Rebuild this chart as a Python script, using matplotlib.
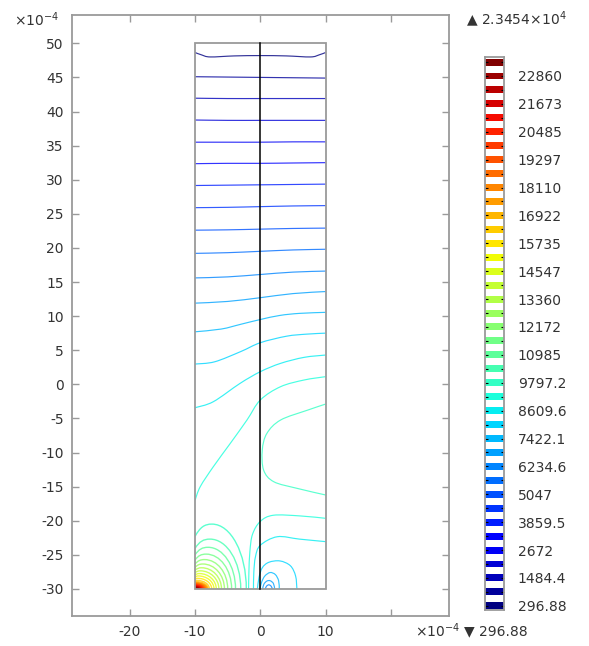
import numpy as np
import matplotlib
matplotlib.use("Agg")
import matplotlib.pyplot as plt
from matplotlib.path import Path
from matplotlib.patches import PathPatch, Rectangle

# ====== data (lengths in units of 1e-4) ======
levels = [296.88, 890.65, 1484.4, 2078.2, 2672.0, 3265.7, 3859.5, 4453.3, 5047.0, 5640.8,
          6234.6, 6828.4, 7422.1, 8015.9, 8609.6, 9203.4, 9797.2, 10391, 10985, 11579,
          12172, 12766, 13360, 13954, 14547, 15141, 15735, 16329, 16922, 17516,
          18110, 18704, 19297, 19891, 20485, 21079, 21673, 22266, 22860, 23454]
cbar_labels = ["296.88", "1484.4", "2672", "3859.5", "5047", "6234.6", "7422.1", "8609.6",
               "9797.2", "10985", "12172", "13360", "14547", "15735", "16922", "18110",
               "19297", "20485", "21673", "22860"]
max_label = "2.3454×10$^{4}$"
min_label = "296.88"

x_ticks = [-20, -10, 0, 10, 20]
x_ticklabels = ["-20", "-10", "0", "10", ""]
y_ticks = list(range(-30, 51, 5))
y_ticklabels = [str(v) for v in y_ticks]

domain_x = [-10, 10]
domain_y = [-30, 50]
interface_x = 0

# top line (wavy)
top_x = [-10, -9, -7.7, -4, 0, 4, 7.7, 9, 10]
top_y = [48.65, 48.3, 48.0, 48.15, 48.2, 48.15, 48.0, 48.3, 48.65]
top_level = 0

# near-horizontal lines, y read at x = -10, -5, 0, 5, 10
flat_x = [-10, -5, 0, 5, 10]
flat_levels = [1, 2, 3, 4, 5, 6, 7, 8, 9, 10, 11]
flat_y = [
    [45.1, 45.05, 45.0, 44.95, 44.9],
    [41.95, 41.9, 41.9, 41.9, 41.9],
    [38.75, 38.7, 38.7, 38.7, 38.7],
    [35.5, 35.5, 35.5, 35.55, 35.55],
    [32.35, 32.4, 32.4, 32.45, 32.5],
    [29.15, 29.2, 29.25, 29.3, 29.35],
    [25.9, 25.95, 26.05, 26.15, 26.2],
    [22.6, 22.65, 22.75, 22.85, 22.9],
    [19.2, 19.3, 19.5, 19.7, 19.8],
    [15.6, 15.75, 16.1, 16.45, 16.6],
    [11.9, 12.15, 12.7, 13.3, 13.6],
]

# curved lines (level index, x points, y points)
curve_levels = [12, 13, 14, 15, 16, 15, 14, 13, 12, 11, 10]
curve_x = [
    [-10, -6, -3, 0, 3, 6, 10],
    [-10, -7, -3, 0, 4, 7, 10],
    [-10, -7.2, -3.1, 0, 3.1, 6.7, 10],
    [10, 6.7, 3.1, 0, -2.05, -4.6, -7.2, -9.2, -10],
    [10, 7.2, 3.1, 1.0, 0.3, 0.5, 2.05, 5.6, 10],
    [10, 6.1, 2.0, 0, -1.2, -1.6, -1.75, -1.8],
    [10, 6, 2.6, 0, -0.75, -1.0, -1.05],
    [-0.45, -0.2, 0.3, 1.3, 3.0, 4.6, 5.4, 5.6],
    [-0.05, 0.2, 0.7, 1.5, 2.3, 2.8, 2.9],
    [0.35, 0.55, 1.0, 1.5, 2.0, 2.2],
    [0.75, 0.95, 1.3, 1.65, 1.85],
]
curve_y = [
    [7.7, 8.1, 8.8, 9.5, 10.1, 10.4, 10.55],
    [2.97, 3.3, 4.8, 6.1, 7.05, 7.35, 7.5],
    [-3.43, -2.55, 0.14, 1.85, 3.07, 3.95, 4.29],
    [1.12, 0.63, -0.35, -2.3, -5.24, -8.66, -12.08, -15.0, -17.0],
    [-2.9, -3.8, -5.24, -7.2, -9.64, -12.57, -14.28, -15.25, -16.23],
    [-19.65, -19.3, -19.2, -20.1, -22.0, -24.5, -27.5, -30],
    [-23.07, -22.7, -22.35, -23.6, -25.3, -27.6, -30],
    [-30, -28.3, -26.9, -26.1, -25.9, -26.6, -28.1, -30],
    [-30, -29.0, -28.1, -27.6, -27.9, -28.8, -30],
    [-30, -29.3, -28.85, -28.8, -29.2, -30],
    [-30, -29.6, -29.4, -29.6, -30],
]

# arcs round the hot corner (-10, -30), levels 16..38
arc_first_level = 16
arc_dy_left = [7.7, 5.95, 5.0, 4.25, 3.65, 3.15, 2.72, 2.35, 2.0, 1.7, 1.4, 1.15,
               0.95, 0.87, 0.79, 0.71, 0.63, 0.55, 0.47, 0.39, 0.31, 0.23, 0.15]
arc_width = [7.85, 7.0, 6.2, 5.6, 5.0, 4.5, 4.05, 3.65, 3.25, 2.9, 2.55, 2.2,
             1.95, 1.8, 1.65, 1.5, 1.35, 1.2, 1.05, 0.9, 0.75, 0.6, 0.45]
arc_dx_peak = [2.6, 2.3, 2.0, 1.7, 1.45, 1.2, 1.0, 0.8, 0.65, 0.5, 0.4, 0.3,
               0.2, 0, 0, 0, 0, 0, 0, 0, 0, 0, 0]
arc_dy_peak = [9.5, 7.3, 6.1, 5.1, 4.3, 3.65, 3.1, 2.65, 2.25, 1.9, 1.55, 1.25,
               1.0, 0.87, 0.79, 0.71, 0.63, 0.55, 0.47, 0.39, 0.31, 0.23, 0.15]

FRAME = "#9a9a9a"
TEXT = "#333333"
LW = 0.85


def smooth_path(xs, ys):
    """Catmull-Rom style curve through the read points."""
    pts = np.column_stack([xs, ys]).astype(float)
    verts = [pts[0]]
    codes = [Path.MOVETO]
    n = len(pts)
    for i in range(n - 1):
        p0 = pts[i - 1] if i > 0 else pts[i]
        p1, p2 = pts[i], pts[i + 1]
        p3 = pts[i + 2] if i + 2 < n else pts[i + 1]
        verts += [p1 + (p2 - p0) / 6, p2 - (p3 - p1) / 6, p2]
        codes += [Path.CURVE4] * 3
    return Path(verts, codes)


def arc_path(x0, y0, dy_left, dx_peak, dy_peak, width):
    start = (x0, y0 + dy_left)
    end = (x0 + width, y0)
    if dx_peak > 0:
        px, py = x0 + dx_peak, y0 + dy_peak
        verts = [start,
                 (x0 + 0.3 * dx_peak, start[1] + 0.75 * (dy_peak - dy_left)),
                 (px - 0.45 * dx_peak, py), (px, py),
                 (px + 0.55 * (width - dx_peak), py),
                 (end[0], y0 + 0.55 * dy_peak), end]
        codes = [Path.MOVETO] + [Path.CURVE4] * 6
    else:
        verts = [start, (x0 + 0.55 * width, start[1]),
                 (end[0], y0 + 0.55 * dy_left), end]
        codes = [Path.MOVETO] + [Path.CURVE4] * 3
    return Path(verts, codes)


def main():
    cmap = plt.get_cmap("jet")
    norm = plt.Normalize(levels[0], levels[-1])

    def col(idx):
        return cmap(norm(levels[idx]))

    fig = plt.figure(figsize=(5.89, 6.46), dpi=100)
    ax = fig.add_axes([72 / 589, (646 - 615.5) / 646, 377 / 589, (615.5 - 15) / 646])
    ax.set_xlim(-28.85, 28.9)
    ax.set_ylim(-33.9, 54.15)

    clip = Rectangle((domain_x[0], domain_y[0]), domain_x[1] - domain_x[0],
                     domain_y[1] - domain_y[0], transform=ax.transData)

    def add_line(path, idx, lw=LW):
        patch = PathPatch(path, fill=False, edgecolor=col(idx), lw=lw, alpha=0.8)
        ax.add_patch(patch)
        patch.set_clip_path(clip)

    add_line(smooth_path(top_x, top_y), top_level)
    for lvl, ys in zip(flat_levels, flat_y):
        add_line(smooth_path(flat_x, ys), lvl)
    for lvl, xs, ys in zip(curve_levels, curve_x, curve_y):
        add_line(smooth_path(xs, ys), lvl)
    for k in range(len(arc_width)):
        # the innermost arcs sit so close they merge into the hot spot
        lw = 1.0 if k < 12 else 1.6
        add_line(arc_path(domain_x[0], domain_y[0], arc_dy_left[k], arc_dx_peak[k],
                          arc_dy_peak[k], arc_width[k]), arc_first_level + k, lw=lw)

    # geometry
    ax.add_patch(Rectangle((domain_x[0], domain_y[0]), domain_x[1] - domain_x[0],
                           domain_y[1] - domain_y[0], fill=False, ec=FRAME, lw=1.3, zorder=3))
    ax.plot([interface_x, interface_x], domain_y, color="black", lw=1.1, zorder=4)

    ax.set_xticks(x_ticks)
    ax.set_xticklabels(x_ticklabels)
    ax.set_yticks(y_ticks)
    ax.set_yticklabels(y_ticklabels)
    ax.tick_params(direction="in", length=5, width=1, color=FRAME, top=True, right=True,
                   labelsize=10, labelcolor=TEXT)
    ax.tick_params(axis="x", pad=7)
    ax.tick_params(axis="y", pad=6)
    for sp in ax.spines.values():
        sp.set_color(FRAME)
        sp.set_linewidth(1.3)

    # colour legend
    cax = fig.add_axes([485 / 589, (646 - 610) / 646, 19 / 589, (610 - 57.3) / 646])
    step = levels[1] - levels[0]
    cax.barh(levels, 1, height=step * 0.5, left=0, color=[col(i) for i in range(len(levels))])
    cax.set_xlim(0, 1)
    cax.set_ylim(levels[0] - 0.3 * step, levels[-1] + 0.34 * step)
    cax.set_xticks([])
    cax.set_yticks(levels)
    labels = []
    for i in range(len(levels)):
        labels.append(cbar_labels[i // 2] if i % 2 == 0 else "")
    cax.set_yticklabels(labels)
    cax.yaxis.tick_right()
    cax.tick_params(axis="y", direction="in", length=2.5, width=0.8, color="black",
                    left=True, right=True, labelleft=False, labelright=True,
                    labelsize=10, labelcolor=TEXT, pad=10)
    for sp in cax.spines.values():
        sp.set_color(FRAME)
        sp.set_linewidth(1.3)

    fig.text(14 / 589, 1 - 20 / 646, "×10$^{-4}$", ha="left", va="center", fontsize=10, color=TEXT)
    fig.text(415 / 589, 1 - 631 / 646, "×10$^{-4}$", ha="left", va="center", fontsize=10, color=TEXT)
    fig.text(466 / 589, 1 - 20 / 646, "▲ " + max_label, ha="left", va="center", fontsize=10, color=TEXT)
    fig.text(464 / 589, 1 - 631 / 646, "▼ " + min_label, ha="left", va="center", fontsize=10, color=TEXT)

    fig.savefig("out.png", dpi=100, facecolor="white")


if __name__ == "__main__":
    main()
